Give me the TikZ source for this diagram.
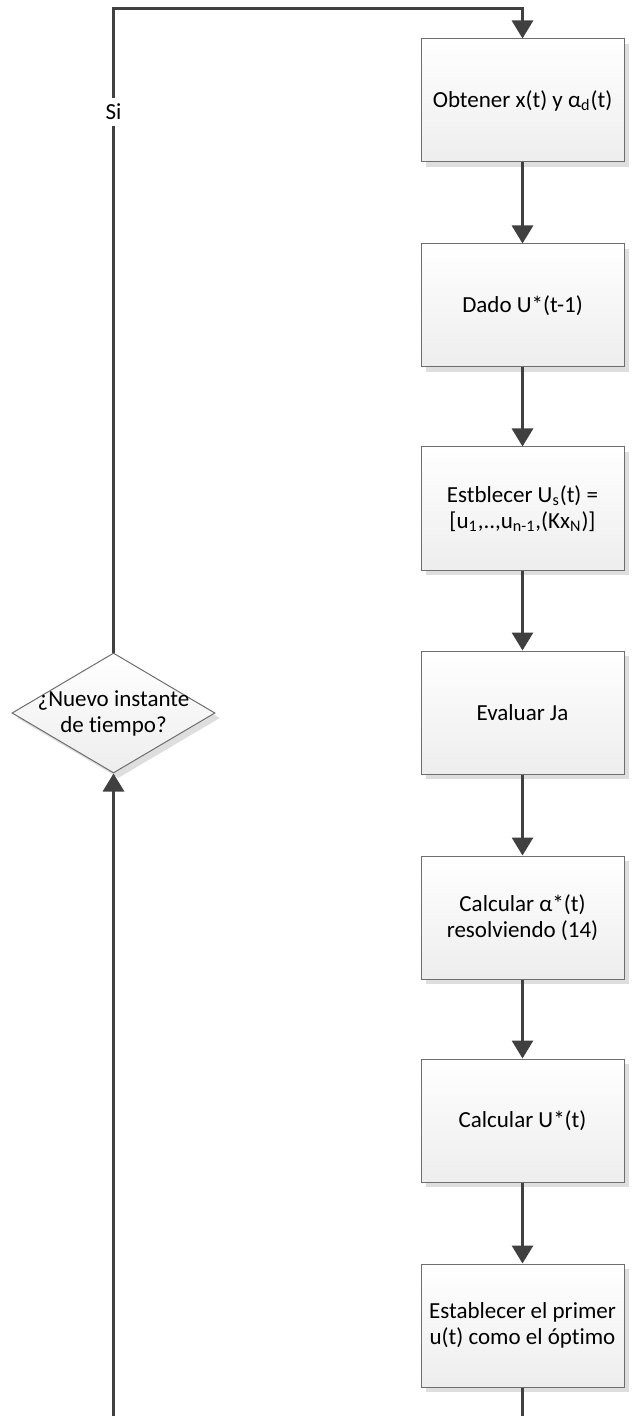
\documentclass[tikz,border=0pt]{standalone}
\usepackage{fontspec}
\setmainfont[Ligatures={NoCommon}]{Carlito}
\usetikzlibrary{shapes.geometric,shadows,arrows.meta}
\definecolor{linegray}{HTML}{404040}
\definecolor{edgegray}{HTML}{6E6E6E}
\begin{document}
\begin{tikzpicture}[
  x=0.5pt, y=-0.5pt,
  every node/.style={font=\fontsize{11.5}{13}\selectfont},
  proc_box/.style={rectangle, draw=edgegray, line width=0.5pt,
                   top color=white, bottom color=black!7,
                   minimum width=101.5pt, minimum height=61.5pt,
                   inner sep=0pt, align=center,
                   drop shadow={shadow xshift=2.5pt, shadow yshift=-2.5pt,
                                fill=black!13, opacity=1}},
  decision/.style={diamond, draw=edgegray, line width=0.5pt,
                   top color=white, bottom color=black!7,
                   minimum width=101.5pt, minimum height=60pt, inner sep=0pt,
                   drop shadow={shadow xshift=2.5pt, shadow yshift=-2.5pt,
                                fill=black!13, opacity=1}},
  arrow/.style={-{Triangle[length=9pt,width=10.5pt]}, line width=1.5pt,
                draw=linegray},
  yes_label/.style={fill=white, inner sep=3pt}
]
  \useasboundingbox (0,0) rectangle (634,1416);
  \clip (0,0) rectangle (634,1416);

  \node[proc_box] (b1) at (522.5, 100.5)
    {Obtener x(t) y α\textsubscript{d}(t)};
  \node[proc_box] (b2) at (522.5, 305.5) {Dado U*(t-1)};
  \node[proc_box] (b3) at (522.5, 508.5)
    {Estblecer U\textsubscript{s}(t) =\\
     {[}u\textsubscript{1},..,u\textsubscript{n-1},(Kx\textsubscript{N})]};
  \node[proc_box] (b4) at (522.5, 712.5) {Evaluar Ja};
  \node[proc_box] (b5) at (522.5, 917.5)
    {Calcular α*(t)\\resolviendo (14)};
  \node[proc_box] (b6) at (522.5, 1120.5) {Calcular U*(t)};
  \node[proc_box] (b7) at (522.5, 1325.5)
    {Establecer el primer\\u(t) como el óptimo};

  \node[decision, label={[align=center]center:¿Nuevo instante\\de tiempo?}]
    (dec) at (113.5, 713) {};

  \coordinate (topturn) at (522.5, 9);
  \coordinate (botturn) at (522.5, 1460);

  \draw[arrow] (b1) -- (b2);
  \draw[arrow] (b2) -- (b3);
  \draw[arrow] (b3) -- (b4);
  \draw[arrow] (b4) -- (b5);
  \draw[arrow] (b5) -- (b6);
  \draw[arrow] (b6) -- (b7);

  % loop back
  \draw[arrow] (b7.south) -- (botturn) -| (dec.south);
  \draw[arrow] (dec.north) |- node[yes_label, pos=0.42] {Si} (topturn)
    -- (b1.north);
\end{tikzpicture}
\end{document}
